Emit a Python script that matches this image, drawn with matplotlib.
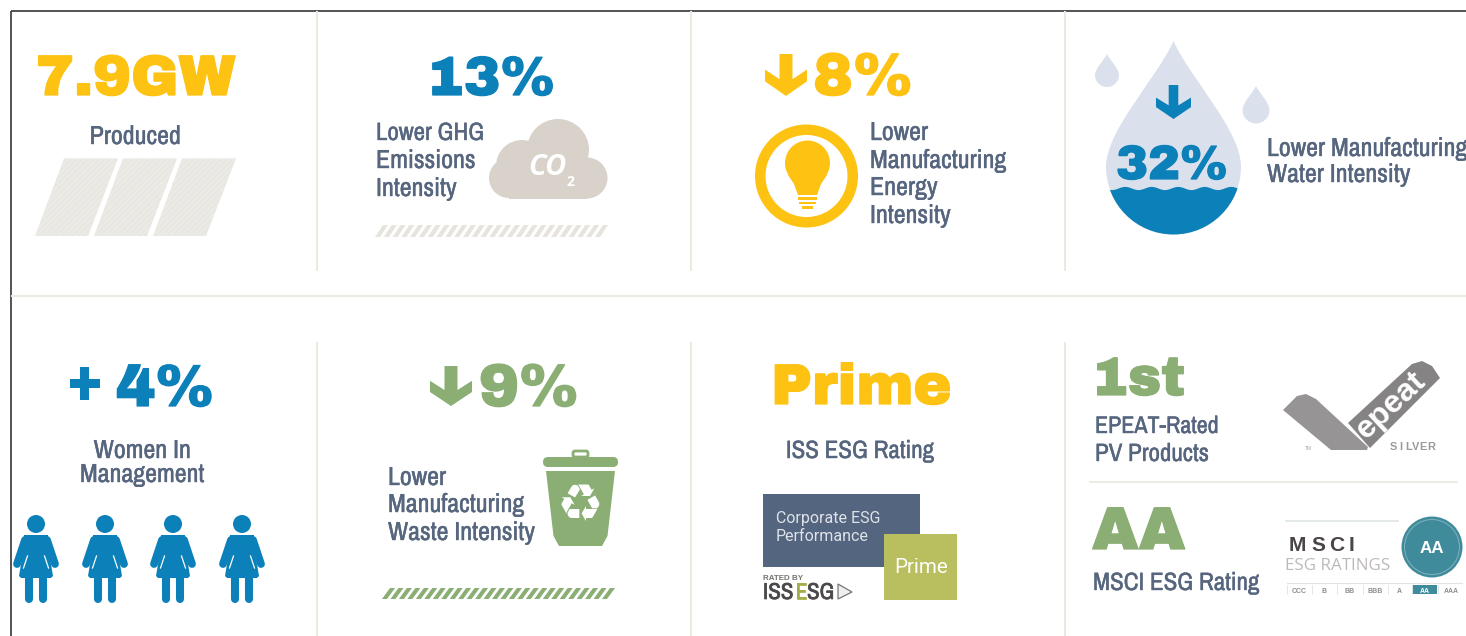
import numpy as np
import matplotlib
matplotlib.use('Agg')
import matplotlib.pyplot as plt
import matplotlib.patheffects as pe
from matplotlib.patches import Polygon, Circle, Rectangle, FancyBboxPatch, PathPatch, Wedge
from matplotlib.path import Path

YELLOW = '#fdc212'
BLUE = '#0c80b8'
GREEN = '#8aae73'
SLATE = '#57667f'
HEAVY = ['Archivo Black', 'Liberation Sans']
NARROW = ['Archivo Narrow', 'Liberation Sans']

# headline figures: text, left x, baseline y, font px, colour
headlines = ['7.9GW', '13%', '8%', '32%', '4%', '9%', 'Prime', '1st', 'AA']
head_x = [36, 427, 813, 1116, 116, 479, 771, 1092, 1092]
head_y = [95, 95, 95, 179, 406, 406, 404, 395, 549]
head_px = [57, 55, 60, 48, 59, 60, 57, 54, 60]
head_col = [YELLOW, BLUE, YELLOW, BLUE, BLUE, GREEN, YELLOW, GREEN, GREEN]

# label lines: text, x, baseline y, font px, alignment
labels = ['Produced', 'Lower GHG', 'Emissions', 'Intensity', 'Lower', 'Manufacturing', 'Energy', 'Intensity',
          'Lower Manufacturing', 'Water Intensity', 'Women In', 'Management', 'Lower', 'Manufacturing',
          'Waste Intensity', 'ISS ESG Rating', 'EPEAT-Rated', 'PV Products', 'MSCI ESG Rating']
label_x = [135, 376, 376, 376, 870, 870, 870, 870, 1267, 1267, 142, 142, 388, 388, 388, 860, 1095, 1095, 1093]
label_y = [144, 140, 168, 196, 140, 168, 195, 223, 156, 182, 458, 482, 485, 512, 540, 458, 433, 461, 590]
label_px = [26, 25, 26, 26, 26, 26, 26, 26, 26, 26, 26, 26, 26, 26, 26, 25, 24, 25, 25]
label_ha = ['center'] + ['left'] * 9 + ['center'] * 2 + ['left'] * 3 + ['center'] + ['left'] * 3

msci_scale = ['CCC', 'B', 'BB', 'BBB', 'A', 'AA', 'AAA']
msci_x = [1299, 1324, 1350, 1375, 1399, 1425, 1451]
women_x = [36, 105, 173, 242]

fig = plt.figure(figsize=(14.66, 6.36), dpi=100)
ax = fig.add_axes([0, 0, 1, 1])
ax.set_xlim(0, 1466)
ax.set_ylim(636, 0)
ax.axis('off')
plt.rcParams['hatch.linewidth'] = 0.6


def txt(x, y, s, px, color, family='Liberation Sans', weight='normal', ha='left', stroke=0, **kw):
    t = ax.text(x, y, s, fontsize=px * 0.72, color=color, family=family, weight=weight, ha=ha, va='baseline', **kw)
    if stroke:
        t.set_path_effects([pe.withStroke(linewidth=stroke, foreground=color)])
    return t


def poly(pts, color, **kw):
    p = Polygon(pts, closed=True, facecolor=color, edgecolor='none', **kw)
    ax.add_patch(p)
    return p


def arrow(cx, top, bot, w, s, color):
    h = bot - top
    poly([(cx - s, top), (cx + s, top), (cx + s, top + 0.6 * h), (cx + w, top + 0.37 * h), (cx + w, top + 0.65 * h),
          (cx, bot), (cx - w, top + 0.65 * h), (cx - w, top + 0.37 * h), (cx - s, top + 0.6 * h)], color, zorder=4)


def drop(cx, tip, cy, r, color, zorder=2):
    k = 0.5523 * r
    verts = [(cx, tip), (cx - r * 0.25, tip + (cy - tip) * 0.3), (cx - r, cy - r * 0.55), (cx - r, cy),
             (cx - r, cy + k), (cx - k, cy + r), (cx, cy + r),
             (cx + k, cy + r), (cx + r, cy + k), (cx + r, cy),
             (cx + r, cy - r * 0.55), (cx + r * 0.25, tip + (cy - tip) * 0.3), (cx, tip), (cx, tip)]
    codes = [Path.MOVETO] + [Path.CURVE4] * 12 + [Path.CLOSEPOLY]
    p = PathPatch(Path(verts, codes), facecolor=color, edgecolor='none', zorder=zorder)
    ax.add_patch(p)
    return p


def stripes(x0, x1, top, bot, n, slant, width, color):
    for x in np.linspace(x0, x1 - slant - width, n):
        poly([(x, bot), (x + width, bot), (x + width + slant, top), (x + slant, top)], color)


# frame and dividers
ax.plot([11, 11], [636, 11], color='#444444', lw=1.3, solid_capstyle='butt')
ax.plot([11, 1466], [11, 11], color='#444444', lw=1.3, solid_capstyle='butt')
for x in [317, 691, 1065]:
    ax.plot([x, x], [12, 270], color='#ece9e3', lw=1.5)
    ax.plot([x, x], [343, 636], color='#ece9e3', lw=1.5)
ax.plot([12, 1466], [296, 296], color='#ece9e3', lw=1.5)
ax.plot([1090, 1457], [481.5, 481.5], color='#ece9e3', lw=1.3)

for s, x, y, px, c in zip(headlines, head_x, head_y, head_px, head_col):
    txt(x, y, s, px, c, family=HEAVY, stroke=0.9, zorder=5)
for s, x, y, px, ha in zip(labels, label_x, label_y, label_px, label_ha):
    txt(x, y, s, px, SLATE, family=NARROW, ha=ha, stroke=0.3, zorder=5)

# solar panels
for dx in [0, 59, 118]:
    ax.add_patch(Polygon([(35 + dx, 236), (88 + dx, 236), (118 + dx, 158.5), (64 + dx, 158.5)], closed=True,
                         facecolor='#e9e7e2', edgecolor='#f1efeb', hatch='//////', lw=0))

# GHG: cloud and stripes
cloud = '#d8d2ca'
for cx, cy, r in [(558, 150, 31), (522, 166, 26), (509, 178, 20), (587, 178, 20.5)]:
    ax.add_patch(Circle((cx, cy), r, color=cloud, lw=0))
ax.add_patch(Rectangle((509, 160), 78, 38.5, color=cloud, lw=0))
txt(528, 175, 'CO', 29, 'white', family='Open Sans', weight='bold', style='italic')
txt(567, 186, '2', 14, 'white', family='Open Sans', weight='bold')
stripes(375, 608, 225, 237, 26, 8, 5, '#e7e4de')

# light bulb in ring
ax.add_patch(Wedge((806.5, 176), 51.5, 0, 360, width=10.5, color=YELLOW, lw=0))
ax.add_patch(Circle((807.5, 163), 22.5, color=YELLOW, lw=0))
poly([(788, 175), (794, 184), (798, 195), (817, 195), (821, 184), (827, 175)], YELLOW)
ax.add_patch(Rectangle((798, 197), 19, 2.6, color=YELLOW, lw=0))
ax.add_patch(Rectangle((799, 201.5), 17, 2.6, color=YELLOW, lw=0))
ax.add_patch(Rectangle((802, 206), 11, 2.8, color=YELLOW, lw=0))

# arrows beside headlines
arrow(786, 54, 96, 21, 6.5, YELLOW)
arrow(451, 366, 406, 21, 6.5, GREEN)
arrow(1173.5, 85, 119, 17.5, 4.8, BLUE)

# water drops
big = drop(1173.5, 41, 167, 67.5, '#dbe1ec')
drop(1107, 54, 75, 12, '#dbe1ec')
drop(1256, 86, 110, 13.5, '#dbe1ec')
wx = np.linspace(1100, 1250, 150)
wy = 188.5 + 1.6 * np.cos((wx - 1112) * 2 * np.pi / 26.5)
water = poly(list(zip(wx, wy)) + [(1250, 240), (1100, 240)], BLUE, zorder=3)
water.set_clip_path(big.get_path(), big.get_transform())

# plus sign and women
poly([(80, 367), (89, 367), (89, 379), (100, 379), (100, 388), (89, 388), (89, 400), (80, 400), (80, 388),
      (70, 388), (70, 379), (80, 379)], BLUE)
for x in women_x:
    ax.add_patch(Circle((x, 524), 9, color=BLUE, lw=0))
    poly([(x - 12, 535), (x + 12, 535), (x + 13, 552), (x + 17, 576), (x + 15, 578), (x - 15, 578), (x - 17, 576),
          (x - 13, 552)], BLUE)
    for side in [-1, 1]:
        ax.plot([x + side * 11, x + side * 19], [540, 564], color=BLUE, lw=5.6, solid_capstyle='round', zorder=3)
        ax.plot([x + side * 8.5, x + side * 12.5], [556, 568], color='white', lw=0.9, zorder=4)
        ax.plot([x + side * 7, x + side * 7], [578, 599], color=BLUE, lw=5.8, solid_capstyle='round', zorder=3)

# recycling bin
ax.add_patch(FancyBboxPatch((573, 451), 15, 6, boxstyle='round,pad=0,rounding_size=2', facecolor='white',
                            edgecolor=GREEN, lw=2))
ax.add_patch(FancyBboxPatch((543, 457), 75, 10, boxstyle='round,pad=0,rounding_size=5', color=GREEN, lw=0))
poly([(546, 471), (615, 471), (607.5, 536), (602, 546), (559, 546), (553.5, 536)], GREEN)
txt(579.5, 521, '\u267b', 52, 'white', family='DejaVu Sans', ha='center')
stripes(382, 615, 588, 599, 27, 8, 5, GREEN)

# ISS ESG badge
ax.add_patch(Rectangle((763, 494), 157, 73, color='#54657f', lw=0))
ax.add_patch(Rectangle((884, 534), 73, 66, color='#b9bf5e', lw=0))
txt(776, 523, 'Corporate ESG', 16, '#dfe2e8', family='Roboto')
txt(776, 541, 'Performance', 16, '#dfe2e8', family='Roboto')
txt(894, 573, 'Prime', 20.5, 'white', family='Roboto')
txt(763, 580, 'RATED BY', 8, '#77736f', weight='bold')
txt(763, 599, 'ISS', 23, '#4c4a49', family=NARROW, stroke=0.5)
txt(795, 599, 'E', 23, '#a5ad4a', family=NARROW, stroke=0.5)
txt(807, 599, 'SG', 23, '#4c4a49', family=NARROW, stroke=0.5)
ax.add_patch(Polygon([(838, 584), (852, 592), (838, 599)], closed=True, facecolor='#efefef', edgecolor='#777777', lw=0.9))

# EPEAT mark
poly([(1283, 410), (1297, 396), (1306, 394), (1316, 399), (1368, 447), (1367, 450), (1331, 450)], '#969495')
poly([(1348, 423), (1412, 364), (1422, 361), (1432, 366), (1440, 378), (1370, 448)], '#858384')
txt(1366, 440, 'epeat', 32, 'white', family='Liberation Sans', weight='bold', rotation=43,
    rotation_mode='anchor', zorder=5)
for c, x in zip('SILVER', np.linspace(1393, 1431, 6)):
    txt(x, 450, c, 11, '#9b9a9a', weight='bold', ha='center')
txt(1305, 450, 'TM', 5, '#aaaaaa')

# MSCI badge
ax.plot([1286, 1398], [521, 521], color='#dde5e3', lw=1.2)
for c, x in zip('MSCI', [1297, 1318, 1337, 1352]):
    txt(x, 551, c, 21, '#4a4546', weight='bold', ha='center')
txt(1285, 570, 'ESG RATINGS', 17, '#bdb9b9', family='Open Sans')
ax.add_patch(Circle((1432, 547), 30.5, color='#3f8b9c', lw=0))
ax.add_patch(Circle((1432, 547), 27.5, facecolor='none', edgecolor='#79adb9', lw=0.8))
txt(1432, 553, 'AA', 17, 'white', weight='bold', ha='center')
ax.plot([1287, 1462], [583, 583], color='#e3e3e3', lw=0.8)
ax.add_patch(Rectangle((1412, 585), 25, 9, color='#3f8b9c', lw=0))
for s, x in zip(msci_scale, msci_x):
    txt(x, 593, s, 7, 'white' if s == 'AA' else '#8f8f8f', weight='bold', ha='center')
    if s != 'AAA':
        ax.plot([x + 12.5, x + 12.5], [585, 594], color='#e6e6e6', lw=0.7)
ax.plot([1287, 1287], [585, 594], color='#e6e6e6', lw=0.7)

fig.savefig('out.png', dpi=100)
